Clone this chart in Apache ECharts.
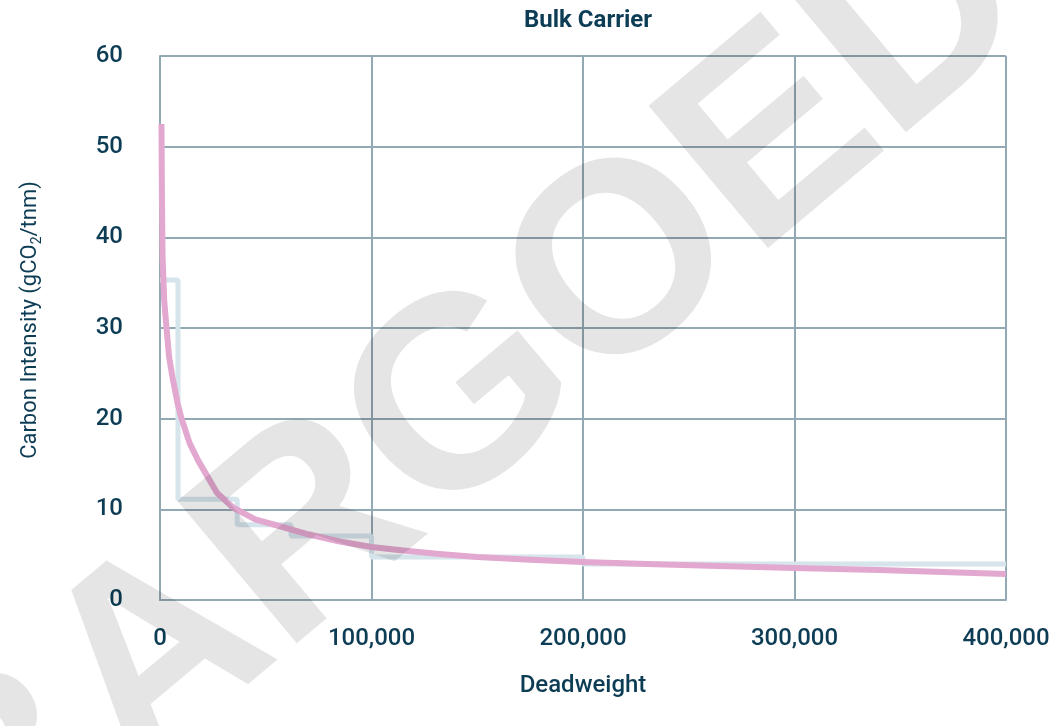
<!DOCTYPE html>
<html>
<head>
<meta charset="utf-8">
<script src="https://cdn.jsdelivr.net/npm/echarts@6/dist/echarts.min.js"></script>
<style>
html,body{margin:0;padding:0;background:#fff;}
#chart{width:1058px;height:726px;}
</style>
</head>
<body>
<div id="chart"></div>
<script>
// Carbon intensity reference curve (deadweight, gCO2/tnm)
const curveDwt = [700, 900, 1200, 2000, 3300, 4300, 6100, 8500, 10200, 14000, 18000, 22000, 27000, 34500, 45000, 58000, 70000, 85000, 100000, 115000, 132000, 150000, 175000, 200000, 230000, 260000, 300000, 340000, 370000, 400000];
const curveVal = [52.5, 45, 38, 33, 29.4, 26.8, 24.3, 21.5, 20, 17.3, 15.4, 13.8, 11.8, 10.2, 8.9, 8.05, 7.25, 6.45, 5.85, 5.45, 5.07, 4.75, 4.45, 4.2, 3.97, 3.78, 3.53, 3.3, 3.1, 2.87];
// Step band (start deadweight of each band, value)
const stepDwt = [0, 8500, 36500, 62000, 100000, 200000, 400000];
const stepVal = [35.3, 11.1, 8.3, 7.05, 4.75, 3.97, 3.97];
const xTicks = [0, 100000, 200000, 300000, 400000];
const yTicks = [0, 10, 20, 30, 40, 50, 60];

const textColor = '#0d3c55';
const gridColor = '#92a8b3';

const chart = echarts.init(document.getElementById('chart'), null, {renderer: 'canvas'});
const option = {
  backgroundColor: '#ffffff',
  animation: false,
  title: {
    text: 'Bulk Carrier',
    left: 583, top: 4, textAlign: 'center',
    textStyle: {fontFamily: 'Roboto', fontSize: 24, fontWeight: 'bold', color: textColor}
  },
  grid: {left: 160, right: 52, top: 56, bottom: 126, containLabel: false},
  xAxis: {
    type: 'value', min: xTicks[0], max: xTicks[xTicks.length - 1], interval: 100000,
    name: 'Deadweight', nameLocation: 'middle', nameGap: 74,
    nameTextStyle: {fontFamily: 'Roboto', fontSize: 24, fontWeight: 500, color: textColor},
    axisLine: {show: true, lineStyle: {color: gridColor, width: 2}},
    axisTick: {show: false},
    axisLabel: {margin: 27, fontFamily: 'Roboto', fontSize: 24, fontWeight: 500, color: textColor,
      formatter: v => v.toLocaleString('en-US')},
    splitLine: {show: true, lineStyle: {color: gridColor, width: 2}}
  },
  yAxis: {
    type: 'value', min: yTicks[0], max: yTicks[yTicks.length - 1], interval: 10,
    name: 'Carbon Intensity (gCO{sub|2}/tnm)', nameLocation: 'middle', nameGap: 116, nameRotate: 90,
    nameTextStyle: {fontFamily: 'Roboto', fontSize: 22, color: textColor, lineHeight: 28,
      padding: [0, 0, 0, 16],
      rich: {sub: {fontFamily: 'Roboto', fontSize: 14, color: textColor, verticalAlign: 'bottom', lineHeight: 14}}},
    axisLine: {show: true, lineStyle: {color: gridColor, width: 2}},
    axisTick: {show: false},
    axisLabel: {margin: 37, fontFamily: 'Roboto', fontSize: 24, fontWeight: 500, color: textColor,
      padding: [0, 0, 16, 0]},
    splitLine: {show: true, lineStyle: {color: gridColor, width: 2}}
  },
  series: [
    {
      type: 'line', step: 'end', symbol: 'none', silent: true,
      data: stepDwt.map((d, i) => [d, stepVal[i]]),
      lineStyle: {color: '#d6e4ec', width: 5},
      z: 2
    },
    {
      type: 'line', smooth: false, symbol: 'none', silent: true,
      data: curveDwt.map((d, i) => [d, curveVal[i]]),
      lineStyle: {color: '#e2a8cf', width: 6, join: 'round', cap: 'butt'},
      z: 3
    }
  ],
  graphic: [{
    type: 'text', x: 465, y: 405, rotation: 40 * Math.PI / 180, z: 100, silent: true,
    style: {text: 'BARGOED', fontFamily: 'Liberation Sans', fontWeight: 'bold', fontSize: 270,
      fill: 'rgba(0,0,0,0.1)', textAlign: 'center', textVerticalAlign: 'middle'}
  }]
};
chart.setOption(option);
</script>
</body>
</html>
